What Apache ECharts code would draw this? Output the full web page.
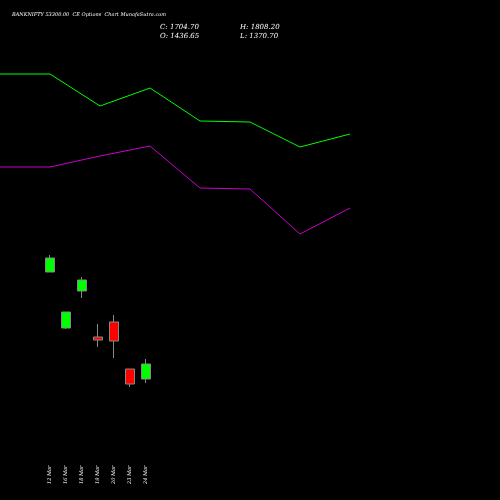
<!DOCTYPE html><html><head><meta charset="utf-8"><script src="https://cdn.jsdelivr.net/npm/echarts@6/dist/echarts.min.js"></script>
<style>html,body{margin:0;background:#000}#c{width:500px;height:500px}</style></head><body><div id="c"></div><script>
const dates=['12 Mar','16 Mar','18 Mar','19 Mar','20 Mar','23 Mar','24 Mar'];
const candles=[[228,242,228,245],[172,188,171,188],[209,220,202,223],[163,160,153,176],[178,159,142,185],[131,116,113,131],[121,136,117,141]];
const lineX=[0,1,2,3,4,5,6,7];
const greenLine=[426,426,394,412,379,378,353,366];
const magentaLine=[333,333,344,354,312,311,266,292];
const ch=echarts.init(document.getElementById('c'));
ch.setOption({backgroundColor:'#000',animation:false,
graphic:[
{type:'text',left:12,top:12,style:{text:'BANKNIFTY 53300.00  CE Options  Chart MunafaSutra.com',fontSize:5,fill:'#fff',fontFamily:'DejaVu Serif',fontStyle:'italic'}},
{type:'text',left:160,top:23,style:{text:'C: 1704.70\nO: 1436.65',fontSize:7,lineHeight:9,fill:'#fff',fontFamily:'DejaVu Serif',fontStyle:'italic'}},
{type:'text',left:240,top:23,style:{text:'H: 1808.20\nL: 1370.70',fontSize:7,lineHeight:9,fill:'#fff',fontFamily:'DejaVu Serif',fontStyle:'italic'}}],
grid:[{left:0,width:350,top:0,height:500},{left:42,width:112,top:0,height:500}],
xAxis:[{type:'value',gridIndex:0,min:0,max:7,show:false},
{type:'category',gridIndex:1,data:dates,axisLine:{show:false},axisTick:{show:false},
 axisLabel:{rotate:90,color:'#fff',fontSize:5,fontFamily:'DejaVu Serif',fontStyle:'italic',margin:-16,align:'left',verticalAlign:'middle'}}],
yAxis:[{type:'value',gridIndex:0,min:0,max:500,show:false},{type:'value',gridIndex:1,min:0,max:500,show:false}],
series:[
{type:'line',xAxisIndex:0,yAxisIndex:0,data:lineX.map((x,i)=>[x,greenLine[i]]),symbol:'none',lineStyle:{color:'#00ff00',width:1}},
{type:'line',xAxisIndex:0,yAxisIndex:0,data:lineX.map((x,i)=>[x,magentaLine[i]]),symbol:'none',lineStyle:{color:'#cc00cc',width:1}},
{type:'candlestick',xAxisIndex:1,yAxisIndex:1,data:candles,barWidth:9,
 itemStyle:{color:'#00ff00',color0:'#ff0000',borderColor:'#888',borderColor0:'#888',borderWidth:1}}]});
</script></body></html>
